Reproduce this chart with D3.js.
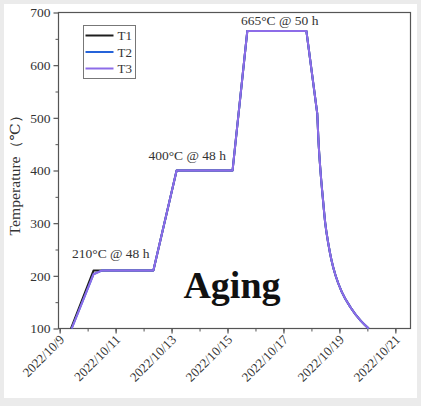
<!DOCTYPE html>
<html>
<head>
<meta charset="utf-8">
<script src="https://cdn.jsdelivr.net/npm/d3@7"></script>
<style>
  html, body { margin: 0; padding: 0; background: #ebebeb; }
  svg { display: block; }
  text { font-family: "Liberation Serif", "DejaVu Serif", serif; }
</style>
</head>
<body>
<svg id="chart" width="421" height="406"></svg>
<script>
// heating / holding / cooling profile
const t1Times = ['2022-10-09T09:40', '2022-10-10T05:00', '2022-10-12T08:24', '2022-10-13T04:20', '2022-10-15T04:20', '2022-10-15T17:00', '2022-10-17T19:40', '2022-10-18T05:00']
const t1Temps = [100, 210, 210, 400, 400, 665, 665, 508]
const t23Times = ['2022-10-09T10:20', '2022-10-10T05:00', '2022-10-10T12:00', '2022-10-12T08:24', '2022-10-13T04:20', '2022-10-15T04:20', '2022-10-15T17:00', '2022-10-17T19:40', '2022-10-18T05:00']
const t23Temps = [100, 203, 210, 210, 400, 400, 665, 665, 508]
const coolTimes = ['2022-10-18T05:00', '2022-10-18T06:01', '2022-10-18T07:44', '2022-10-18T09:42', '2022-10-18T11:51', '2022-10-18T14:35', '2022-10-18T17:10', '2022-10-18T20:46', '2022-10-19T01:55', '2022-10-19T09:38', '2022-10-19T18:13', '2022-10-20T01:05']
const coolTemps = [508, 458, 400, 350, 300, 260, 230, 200, 170, 140, 115, 100]

const seriesNames = ['T1', 'T2', 'T3']
const seriesColors = ['#1e1e1e', '#2563d9', '#8d6ce8']

const xTicks = ['2022-10-09', '2022-10-11', '2022-10-13', '2022-10-15', '2022-10-17', '2022-10-19', '2022-10-21']
const yTicks = [100, 200, 300, 400, 500, 600, 700]

const notes = [
  { text: '210°C @ 48 h', time: '2022-10-09T10:35', temp: 233 },
  { text: '400°C @ 48 h', time: '2022-10-12T04:12', temp: 420 },
  { text: '665°C @ 50 h', time: '2022-10-15T11:32', temp: 677 }
]

const parse = d3.isoParse
const svg = d3.select('#chart')

// white sheet inside the grey frame
svg.append('rect').attr('x', 4).attr('y', 4).attr('width', 413).attr('height', 394).attr('fill', '#fff')

const plotLeft = 58.5
const plotRight = 410.5
const plotTop = 12.5
const plotBottom = 328.5

const x = d3.scaleTime()
  .domain([parse('2022-10-08T23:00'), parse('2022-10-21T13:00')])
  .range([plotLeft, plotRight])
const y = d3.scaleLinear().domain([100, 700]).range([plotBottom, plotTop])

const axisColor = '#555'
const labelColor = '#333'

// frame
svg.append('rect')
  .attr('x', plotLeft).attr('y', plotTop)
  .attr('width', plotRight - plotLeft).attr('height', plotBottom - plotTop)
  .attr('fill', 'none').attr('stroke', axisColor).attr('stroke-width', 1.2)

// minor ticks
const xMinor = d3.timeDay.range(parse('2022-10-09'), parse('2022-10-22'))
svg.append('g')
  .attr('transform', `translate(0,${plotBottom})`)
  .call(d3.axisBottom(x).tickValues(xMinor).tickSize(3).tickFormat(''))
  .call(g => g.select('.domain').remove())
  .call(g => g.selectAll('line').attr('stroke', axisColor))

const yMinor = d3.range(150, 700, 100)
svg.append('g')
  .attr('transform', `translate(${plotLeft},0)`)
  .call(d3.axisLeft(y).tickValues(yMinor).tickSize(3).tickFormat(''))
  .call(g => g.select('.domain').remove())
  .call(g => g.selectAll('line').attr('stroke', axisColor))

// major x axis
const xAxis = svg.append('g')
  .attr('transform', `translate(0,${plotBottom})`)
  .call(d3.axisBottom(x).tickValues(xTicks.map(parse)).tickSize(5).tickFormat(d3.timeFormat('%Y/%-m/%-d')))
xAxis.select('.domain').remove()
xAxis.selectAll('line').attr('stroke', axisColor).attr('stroke-width', 1.2)
xAxis.selectAll('text')
  .attr('fill', labelColor)
  .style('font-size', '13px')
  .attr('text-anchor', 'end')
  .attr('dy', null)
  .attr('y', 0)
  .attr('transform', 'translate(5,12) rotate(-45)')

// major y axis
const yAxis = svg.append('g')
  .attr('transform', `translate(${plotLeft},0)`)
  .call(d3.axisLeft(y).tickValues(yTicks).tickSize(5).tickPadding(3))
yAxis.select('.domain').remove()
yAxis.selectAll('line').attr('stroke', axisColor).attr('stroke-width', 1.2)
yAxis.selectAll('text').attr('fill', labelColor).style('font-size', '13.5px')

svg.append('text')
  .attr('transform', `translate(20,${(107 + 236) / 2}) rotate(-90)`)
  .attr('text-anchor', 'middle')
  .attr('fill', labelColor)
  .style('font-size', '14px')
  .attr('textLength', 128)
  .attr('lengthAdjust', 'spacingAndGlyphs')
  .text('Temperature（℃）')

// lines
const line = d3.line().x(d => x(parse(d[0]))).y(d => y(d[1]))
const smooth = d3.line().x(d => x(parse(d[0]))).y(d => y(d[1])).curve(d3.curveMonotoneX)

const plots = [
  { times: t1Times, temps: t1Temps },
  { times: t23Times, temps: t23Temps },
  { times: t23Times, temps: t23Temps }
]
plots.forEach((p, i) => {
  svg.append('path')
    .attr('d', line(d3.zip(p.times, p.temps)))
    .attr('fill', 'none').attr('stroke', seriesColors[i]).attr('stroke-width', 2)
    .attr('stroke-linejoin', 'round')
  svg.append('path')
    .attr('d', smooth(d3.zip(coolTimes, coolTemps)))
    .attr('fill', 'none').attr('stroke', seriesColors[i]).attr('stroke-width', 2)
})

// annotations
svg.selectAll('text.note').data(notes).enter()
  .append('text')
  .attr('class', 'note')
  .attr('x', d => x(parse(d.time)))
  .attr('y', d => y(d.temp))
  .attr('fill', labelColor)
  .style('font-size', '13.5px')
  .text(d => d.text)

svg.append('text')
  .attr('x', 232).attr('y', 298)
  .attr('text-anchor', 'middle')
  .style('font-size', '38px').style('font-weight', 'bold')
  .attr('fill', '#111')
  .text('Aging')

// legend
const legend = svg.append('g').attr('transform', 'translate(83.5,25.5)')
legend.append('rect').attr('width', 52).attr('height', 53)
  .attr('fill', '#fff').attr('stroke', '#777').attr('stroke-width', 1)
seriesNames.forEach((name, i) => {
  const yy = 10 + i * 16.5
  legend.append('line').attr('x1', 2).attr('x2', 30).attr('y1', yy).attr('y2', yy)
    .attr('stroke', seriesColors[i]).attr('stroke-width', 2)
  legend.append('text').attr('x', 34).attr('y', yy + 4.5)
    .attr('fill', labelColor).style('font-size', '13px').text(name)
})
</script>
</body>
</html>
